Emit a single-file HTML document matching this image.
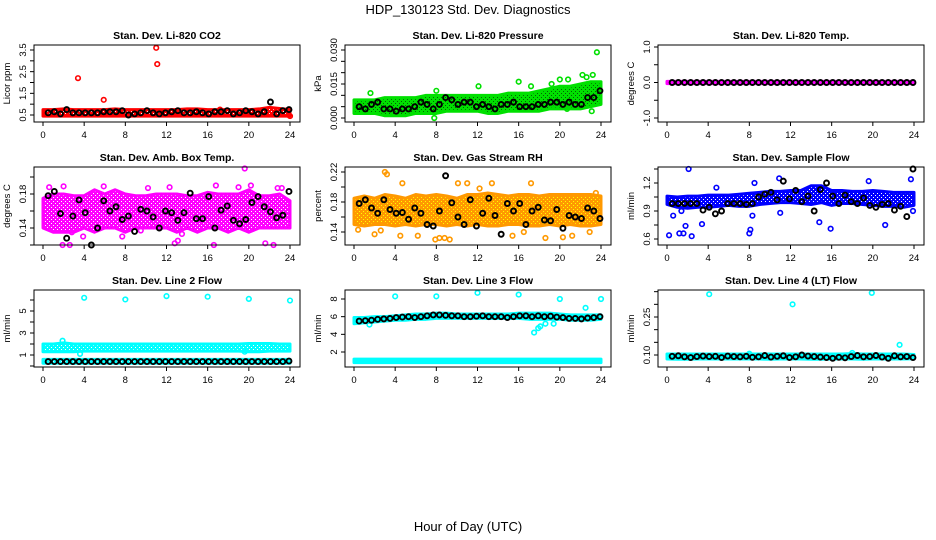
<!DOCTYPE html>
<html><head><meta charset="utf-8">
<style>
body{margin:0;background:#fff;}
svg{display:block;font-family:"Liberation Sans",sans-serif;}
.t{font-weight:bold;font-size:10.5px;}
.tk{font-size:9.5px;}
</style></head>
<body>
<svg id="c" width="936" height="540" viewBox="0 0 936 540">
<text x="468" y="14" text-anchor="middle" font-size="13">HDP_130123  Std. Dev. Diagnostics</text>
<text x="468" y="531" text-anchor="middle" font-size="13">Hour of Day (UTC)</text>
</svg>
<script>
const hours = [0,1,2,3,4,5,6,7,8,9,10,11,12,13,14,15,16,17,18,19,20,21,22,23,24];
const blackHours = [0.5,1.1,1.7,2.3,2.9,3.5,4.1,4.7,5.3,5.9,6.5,7.1,7.7,8.3,8.9,9.5,10.1,10.7,11.3,11.9,12.5,13.1,13.7,14.3,14.9,15.5,16.1,16.7,17.3,17.9,18.5,19.1,19.7,20.3,20.9,21.5,22.1,22.7,23.3,23.9];
const xTicks = [0,4,8,12,16,20,24];

const co2Lo = [0.45,0.45,0.45,0.45,0.45,0.45,0.45,0.45,0.45,0.45,0.45,0.45,0.45,0.45,0.45,0.45,0.45,0.45,0.45,0.45,0.45,0.45,0.45,0.45,0.45];
const co2Hi = [0.75,0.75,0.78,0.75,0.75,0.75,0.75,0.78,0.75,0.75,0.75,0.75,0.75,0.75,0.78,0.78,0.75,0.75,0.75,0.75,0.75,0.78,0.85,0.8,0.75];
const co2OutX = [3.4,5.9,11.0,11.1,17.2,24.0];
const co2OutY = [2.2,1.2,3.6,2.85,0.75,0.45];
const co2Black = [0.6,0.65,0.55,0.75,0.6,0.6,0.6,0.6,0.6,0.65,0.65,0.65,0.7,0.5,0.55,0.6,0.7,0.6,0.55,0.6,0.65,0.7,0.6,0.6,0.65,0.6,0.55,0.65,0.65,0.7,0.55,0.6,0.7,0.65,0.55,0.65,1.1,0.55,0.7,0.75];

const presLo = [0.002,0.002,0.002,0.001,0.001,0.001,0.002,0.002,0.002,0.003,0.003,0.003,0.003,0.002,0.002,0.003,0.003,0.003,0.003,0.004,0.004,0.004,0.004,0.005,0.006];
const presHi = [0.008,0.008,0.008,0.009,0.009,0.009,0.009,0.010,0.010,0.010,0.010,0.010,0.010,0.010,0.010,0.011,0.011,0.011,0.012,0.013,0.014,0.014,0.015,0.016,0.016];
const presOutX = [8.0,12.1,16.0,17.2,19.2,20.0,20.8,22.2,22.6,23.2,23.6,19.5,20.7,23.1,1.6,7.8];
const presOutY = [0.012,0.014,0.016,0.014,0.015,0.017,0.017,0.019,0.018,0.019,0.029,0.005,0.004,0.003,0.011,0.0];
const presBlack = [0.005,0.004,0.006,0.007,0.004,0.004,0.003,0.004,0.004,0.005,0.007,0.006,0.004,0.006,0.009,0.008,0.006,0.007,0.007,0.005,0.006,0.005,0.004,0.006,0.006,0.007,0.005,0.005,0.005,0.006,0.006,0.007,0.007,0.006,0.007,0.006,0.006,0.009,0.009,0.012];

const tempLo = [-0.03,-0.03,-0.03,-0.03,-0.03,-0.03,-0.03,-0.03,-0.03,-0.03,-0.03,-0.03,-0.03,-0.03,-0.03,-0.03,-0.03,-0.03,-0.03,-0.03,-0.03,-0.03,-0.03,-0.03,-0.03];
const tempHi = [0.03,0.03,0.03,0.03,0.03,0.03,0.03,0.03,0.03,0.03,0.03,0.03,0.03,0.03,0.03,0.03,0.03,0.03,0.03,0.03,0.03,0.03,0.03,0.03,0.03];
const tempOutX = [];
const tempOutY = [];
const tempBlack = [0,0,0,0,0,0,0,0,0,0,0,0,0,0,0,0,0,0,0,0,0,0,0,0,0,0,0,0,0,0,0,0,0,0,0,0,0,0,0,0];

const ambLo = [0.14,0.135,0.135,0.135,0.14,0.135,0.14,0.14,0.135,0.14,0.14,0.14,0.14,0.135,0.14,0.135,0.14,0.14,0.135,0.14,0.135,0.14,0.14,0.14,0.14];
const ambHi = [0.175,0.18,0.18,0.178,0.178,0.185,0.18,0.185,0.18,0.178,0.178,0.18,0.18,0.18,0.178,0.178,0.182,0.18,0.18,0.18,0.185,0.178,0.178,0.18,0.172];
const ambOutX = [0.6,2.0,2.6,1.9,5.9,10.2,12.3,12.8,13.5,16.6,19.0,19.6,20.2,21.6,22.4,22.8,23.2,3.9,7.7,16.8,13.1,9.5,2.8];
const ambOutY = [0.188,0.189,0.12,0.12,0.189,0.187,0.188,0.122,0.133,0.12,0.188,0.21,0.19,0.122,0.12,0.187,0.187,0.13,0.13,0.19,0.125,0.137,0.135];
const ambBlack = [0.178,0.183,0.157,0.128,0.154,0.173,0.158,0.12,0.14,0.172,0.16,0.165,0.15,0.154,0.136,0.162,0.16,0.153,0.14,0.16,0.158,0.149,0.158,0.181,0.151,0.151,0.177,0.14,0.161,0.166,0.149,0.145,0.15,0.17,0.177,0.165,0.159,0.152,0.155,0.183];

const rhLo = [0.15,0.148,0.15,0.15,0.148,0.15,0.148,0.15,0.15,0.148,0.15,0.148,0.15,0.148,0.148,0.15,0.15,0.148,0.148,0.15,0.148,0.15,0.148,0.148,0.15];
const rhHi = [0.185,0.188,0.185,0.19,0.188,0.185,0.19,0.188,0.19,0.188,0.185,0.19,0.19,0.192,0.19,0.188,0.19,0.19,0.188,0.19,0.19,0.19,0.19,0.19,0.188];
const rhOutX = [0.4,2.0,3.0,3.2,4.7,6.2,7.9,8.3,9.3,10.1,11.0,13.4,15.4,17.2,18.6,20.3,21.2,22.9,23.5,2.6,4.5,8.8,12.2,16.5];
const rhOutY = [0.143,0.137,0.22,0.217,0.205,0.135,0.13,0.132,0.13,0.205,0.205,0.205,0.135,0.205,0.132,0.133,0.135,0.14,0.192,0.142,0.135,0.132,0.198,0.14];
const rhBlack = [0.178,0.183,0.172,0.165,0.183,0.17,0.165,0.166,0.157,0.172,0.165,0.15,0.148,0.168,0.215,0.179,0.16,0.15,0.183,0.148,0.165,0.185,0.162,0.137,0.178,0.168,0.178,0.15,0.168,0.173,0.156,0.155,0.17,0.145,0.162,0.16,0.158,0.172,0.168,0.158];

const flowLo = [0.97,0.94,0.93,0.94,0.94,0.95,0.96,0.95,0.95,0.97,0.98,0.99,0.99,0.98,0.97,0.99,0.96,0.98,0.98,0.97,0.96,0.95,0.95,0.94,0.96];
const flowHi = [1.06,1.05,1.06,1.06,1.07,1.07,1.07,1.08,1.09,1.10,1.11,1.11,1.12,1.12,1.17,1.17,1.12,1.12,1.11,1.11,1.12,1.11,1.10,1.10,1.10];
const flowOutX = [0.2,1.2,1.6,1.8,2.1,2.4,3.4,4.8,8.0,8.1,8.3,8.5,10.9,11.0,14.8,15.9,19.6,21.2,23.7,23.9,0.6,1.4];
const flowOutY = [0.64,0.66,0.66,0.74,1.35,0.63,0.76,1.15,0.66,0.7,0.85,1.2,1.25,0.88,0.78,0.71,1.22,0.75,1.24,0.9,0.85,0.9];
const flowBlack = [0.98,0.98,0.98,0.98,0.98,0.91,0.94,0.87,0.90,0.98,0.98,0.98,0.97,0.98,1.05,1.08,1.10,1.02,1.22,1.03,1.12,1.00,1.06,0.90,1.13,1.20,1.06,0.98,1.07,1.00,0.98,1.04,0.96,0.94,0.97,0.98,0.91,0.95,0.84,1.35];

const l2Lo = [1.3,1.3,1.3,1.3,1.35,1.35,1.35,1.35,1.35,1.35,1.35,1.35,1.35,1.35,1.35,1.35,1.35,1.35,1.35,1.35,1.3,1.3,1.35,1.35,1.35];
const l2Hi = [2.0,2.0,2.1,2.0,2.0,2.0,2.0,2.0,2.0,2.0,2.0,2.0,2.0,2.0,2.0,2.0,2.0,2.0,2.0,2.0,2.05,2.05,2.05,2.0,2.0];
const l2OutX = [4.0,8.0,12.0,16.0,20.0,24.0,3.6,1.9,19.6];
const l2OutY = [6.2,6.05,6.35,6.3,6.1,5.95,1.1,2.3,1.3];
const l2Black = [0.4,0.4,0.4,0.4,0.4,0.4,0.4,0.4,0.4,0.4,0.4,0.4,0.4,0.4,0.4,0.4,0.4,0.4,0.4,0.4,0.4,0.4,0.4,0.4,0.4,0.4,0.4,0.4,0.4,0.4,0.4,0.4,0.4,0.4,0.4,0.4,0.4,0.4,0.4,0.45];

const l3Lo = [5.2,5.3,5.4,5.5,5.6,5.6,5.7,5.7,5.8,5.8,5.8,5.8,5.8,5.8,5.8,5.8,5.8,5.7,5.7,5.7,5.7,5.6,5.6,5.6,5.7];
const l3Hi = [5.9,5.9,6.0,6.0,6.1,6.2,6.3,6.3,6.4,6.4,6.3,6.3,6.3,6.3,6.3,6.3,6.4,6.4,6.4,6.4,6.3,6.2,6.2,6.2,6.2];
const l3OutX = [4.0,8.0,12.0,16.0,20.0,24.0,22.5,17.5,17.9,18.1,18.6,19.4,1.5];
const l3OutY = [8.3,8.3,8.7,8.5,8.0,8.0,7.0,4.2,4.7,4.9,5.2,5.2,5.1];
const l3Black = [5.5,5.55,5.6,5.7,5.75,5.8,5.9,5.95,6.0,5.9,6.0,6.1,6.2,6.2,6.15,6.1,6.1,6.0,6.0,6.05,6.1,6.0,6.0,6.0,5.9,6.0,6.1,6.1,6.0,6.1,6.0,6.05,5.95,5.9,5.8,5.8,5.75,5.85,5.9,6.0];
const l3LowLo = [0.8,0.8,0.8,0.8,0.8,0.8,0.8,0.8,0.8,0.8,0.8,0.8,0.8,0.8,0.8,0.8,0.8,0.8,0.8,0.8,0.8,0.8,0.8,0.8,0.8];
const l3LowHi = [1.2,1.2,1.2,1.2,1.2,1.2,1.2,1.2,1.2,1.2,1.2,1.2,1.2,1.2,1.2,1.2,1.2,1.2,1.2,1.2,1.2,1.2,1.2,1.2,1.2];
const l2LowLo = [0.25,0.25,0.25,0.25,0.25,0.25,0.25,0.25,0.25,0.25,0.25,0.25,0.25,0.25,0.25,0.25,0.25,0.25,0.25,0.25,0.25,0.25,0.25,0.25,0.25];
const l2LowHi = [0.6,0.6,0.6,0.6,0.6,0.6,0.6,0.6,0.6,0.6,0.6,0.6,0.6,0.6,0.6,0.6,0.6,0.6,0.6,0.6,0.6,0.6,0.6,0.6,0.6];

const l4Lo = [0.084,0.083,0.083,0.084,0.084,0.084,0.084,0.084,0.084,0.084,0.083,0.084,0.084,0.084,0.083,0.083,0.084,0.084,0.084,0.083,0.084,0.084,0.084,0.084,0.085];
const l4Hi = [0.104,0.104,0.104,0.104,0.104,0.104,0.104,0.104,0.104,0.104,0.104,0.104,0.104,0.104,0.104,0.104,0.104,0.104,0.106,0.104,0.104,0.104,0.104,0.104,0.102];
const l4OutX = [4.1,12.2,19.9,22.6,18.0,8.0];
const l4OutY = [0.34,0.30,0.345,0.14,0.108,0.105];
const l4Black = [0.095,0.097,0.093,0.09,0.094,0.096,0.094,0.095,0.09,0.096,0.094,0.093,0.095,0.091,0.093,0.098,0.092,0.095,0.097,0.09,0.093,0.1,0.096,0.094,0.092,0.09,0.087,0.091,0.089,0.094,0.098,0.093,0.094,0.098,0.092,0.087,0.097,0.093,0.094,0.09];

const NS = "http://www.w3.org/2000/svg";
const svg = document.getElementById("c");
function mk(tag, attrs, parent){
  const e = document.createElementNS(NS, tag);
  for (const k in attrs) e.setAttribute(k, attrs[k]);
  (parent||svg).appendChild(e);
  return e;
}
const defs = mk("defs", {});
function pattern(id, bg, dot){
  const p = mk("pattern", {id:id, width:4, height:4, patternUnits:"userSpaceOnUse"}, defs);
  mk("rect", {x:0, y:0, width:4, height:4, fill:bg}, p);
  mk("rect", {x:1, y:1, width:1, height:1, fill:dot}, p);
  mk("rect", {x:3, y:3, width:1, height:1, fill:dot}, p);
}

const colX = [34, 345, 658];
const rowY = [[45,122],[167,245],[290,367]];
const panels = [
 {name:"co2", title:"Stan. Dev. Li-820 CO2", ylab:"Licor ppm", col:"#ff0000", dot:"#ffffff", r:0, c:0, ymin:0.5, ymax:3.5, ya:115, yb:50,
  ticks:[0.5,1,1.5,2,2.5,3,3.5], labels:[0.5,1.5,2.5,3.5], fmt:1, bands:[[co2Lo,co2Hi]], ox:co2OutX, oy:co2OutY, bk:co2Black},
 {name:"pressure", title:"Stan. Dev. Li-820 Pressure", ylab:"kPa", col:"#00e000", dot:"#006600", r:0, c:1, ymin:0, ymax:0.03, ya:118, yb:50,
  ticks:[0,0.005,0.01,0.015,0.02,0.025,0.03], labels:[0,0.015,0.03], fmt:3, bands:[[presLo,presHi]], ox:presOutX, oy:presOutY, bk:presBlack},
 {name:"temp", title:"Stan. Dev. Li-820 Temp.", ylab:"degrees C", col:"#ff00ff", dot:"#ff00ff", r:0, c:2, ymin:-1, ymax:1, ya:118, yb:47,
  ticks:[-1,-0.5,0,0.5,1], labels:[-1,0,1], fmt:1, bands:[[tempLo,tempHi]], ox:tempOutX, oy:tempOutY, bk:tempBlack},
 {name:"amb-box-temp", title:"Stan. Dev. Amb. Box Temp.", ylab:"degrees C", col:"#ff00ff", dot:"#ffffff", r:1, c:0, ymin:0.14, ymax:0.18, ya:228, yb:194,
  ticks:[0.12,0.14,0.16,0.18,0.2], labels:[0.14,0.18], fmt:2, bands:[[ambLo,ambHi]], ox:ambOutX, oy:ambOutY, bk:ambBlack},
 {name:"gas-stream-rh", title:"Stan. Dev. Gas Stream RH", ylab:"percent", col:"#ff9900", dot:"#ffff00", r:1, c:1, ymin:0.14, ymax:0.22, ya:232, yb:172,
  ticks:[0.14,0.16,0.18,0.2,0.22], labels:[0.14,0.18,0.22], fmt:2, bands:[[rhLo,rhHi]], ox:rhOutX, oy:rhOutY, bk:rhBlack},
 {name:"sample-flow", title:"Stan. Dev. Sample Flow", ylab:"ml/min", col:"#0000ff", dot:"#ffffff", r:1, c:2, ymin:0.6, ymax:1.2, ya:239, yb:183,
  ticks:[0.6,0.75,0.9,1.05,1.2,1.35], labels:[0.6,0.9,1.2], fmt:1, bands:[[flowLo,flowHi]], ox:flowOutX, oy:flowOutY, bk:flowBlack},
 {name:"line-2-flow", title:"Stan. Dev. Line 2 Flow", ylab:"ml/min", col:"#00ffff", dot:"#ffffff", r:2, c:0, ymin:1, ymax:5, ya:355, yb:311,
  ticks:[0,1,2,3,4,5,6], labels:[1,3,5], fmt:0, bands:[[l2Lo,l2Hi],[l2LowLo,l2LowHi]], ox:l2OutX, oy:l2OutY, bk:l2Black},
 {name:"line-3-flow", title:"Stan. Dev. Line 3 Flow", ylab:"ml/min", col:"#00ffff", dot:"#00ffff", r:2, c:1, ymin:2, ymax:8, ya:352, yb:299,
  ticks:[2,4,6,8], labels:[2,4,6,8], fmt:0, bands:[[l3Lo,l3Hi],[l3LowLo,l3LowHi]], ox:l3OutX, oy:l3OutY, bk:l3Black},
 {name:"line-4-flow", title:"Stan. Dev. Line 4 (LT) Flow", ylab:"ml/min", col:"#00ffff", dot:"#00ffff", r:2, c:2, ymin:0.1, ymax:0.25, ya:355, yb:317,
  ticks:[0.1,0.15,0.2,0.25,0.3,0.35], labels:[0.1,0.25], fmt:2, bands:[[l4Lo,l4Hi]], ox:l4OutX, oy:l4OutY, bk:l4Black}
];

panels.forEach(p => {
  const bx = colX[p.c], by0 = rowY[p.r][0], by1 = rowY[p.r][1];
  const x0 = bx + 9, pxPerH = 247/24;
  const xs = h => x0 + h*pxPerH;
  const ys = v => p.ya + (v - p.ymin)*(p.yb - p.ya)/(p.ymax - p.ymin);
  pattern("pat-" + p.name, p.col, p.dot);
  const g = mk("g", {});
  
  
  const t = mk("text", {x: bx+133, y: by0-6, "text-anchor":"middle", class:"t"}, g);
  t.textContent = p.title;
  
  
  const clip = "clip-" + p.name;
  const cp = mk("clipPath", {id: clip}, g);
  mk("rect", {x:bx, y:by0, width:266, height:by1-by0}, cp);
  p.bands.forEach(b => {
    let pts = [];
    hours.forEach((h,i) => pts.push(xs(h)+","+ys(b[1][i])));
    for (let i = hours.length-1; i >= 0; i--) pts.push(xs(hours[i])+","+ys(b[0][i]));
    const pg = mk("polygon", {points: pts.join(" "), fill: "url(#pat-"+p.name+")", stroke: p.col, "stroke-width": 3, "stroke-linejoin":"round", "clip-path":"url(#"+clip+")"}, g);
    
    
  });
  p.ox.forEach((h,i) => {
    const ci = mk("circle", {cx: xs(h), cy: ys(p.oy[i]), r: 2.3, fill:"none", stroke:p.col, "stroke-width":1.6}, g);
    
    
  });
  p.bk.forEach((v,i) => {
    const ci = mk("circle", {cx: xs(blackHours[i]), cy: ys(v), r: 2.5, fill:"none", stroke:"#000", "stroke-width":1.9}, g);
    
    
  });
  const rc = mk("rect", {x:bx, y:by0, width:266, height:by1-by0, fill:"none", stroke:"#000", "stroke-width":1}, g);
  
  
  xTicks.forEach(h => {
    mk("line", {x1: xs(h), x2: xs(h), y1: by1, y2: by1+4, stroke:"#000"}, g);
    const tx = mk("text", {x: xs(h), y: by1+16, "text-anchor":"middle", class:"tk"}, g);
    tx.textContent = h;
    
    
  });
  p.ticks.forEach(v => {
    const y = ys(v);
    if (y < by0-1 || y > by1+1) return;
    mk("line", {x1: bx-4, x2: bx, y1: y, y2: y, stroke:"#000"}, g);
  });
  p.labels.forEach(v => {
    const y = ys(v);
    const tx = mk("text", {x: 0, y: 0, "text-anchor":"middle", class:"tk", transform:"translate("+(bx-8)+","+y+") rotate(-90)"}, g);
    tx.textContent = v.toFixed(p.fmt);
    
    
  });
  const yl = mk("text", {x:0, y:0, "text-anchor":"middle", class:"tk", transform:"translate("+(bx-24)+","+((by0+by1)/2)+") rotate(-90)"}, g);
  yl.textContent = p.ylab;
  
  
});
</script>
</body></html>
